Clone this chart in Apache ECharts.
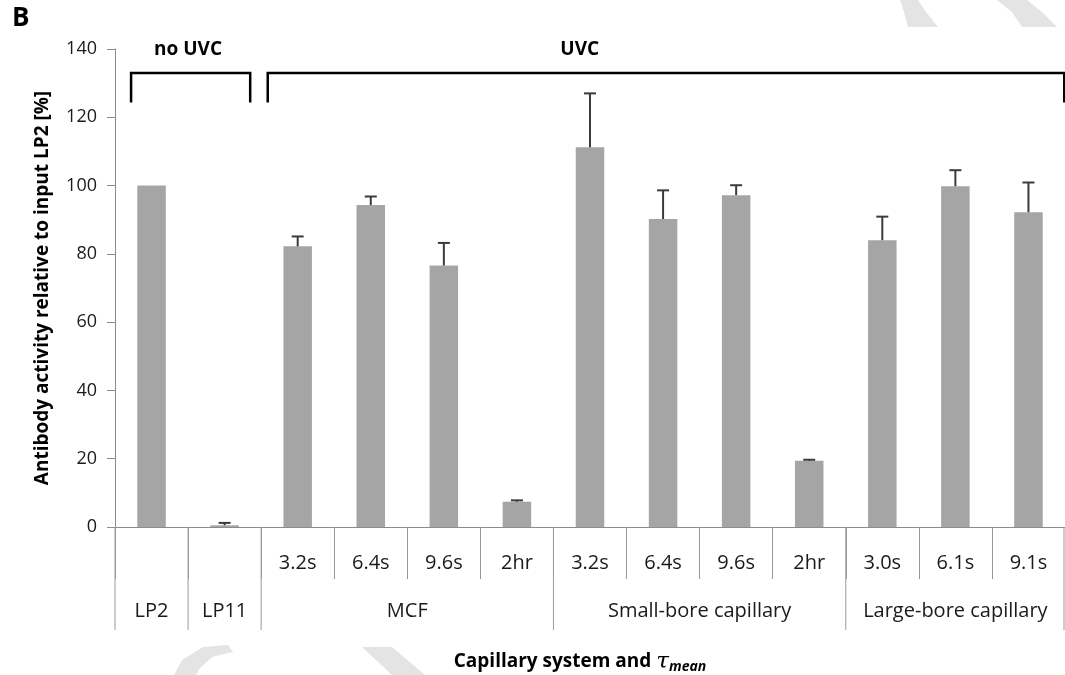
<!DOCTYPE html>
<html><head><meta charset="utf-8">
<script src="https://cdn.jsdelivr.net/npm/echarts@6/dist/echarts.min.js"></script>
<style>html,body{margin:0;padding:0;background:#fff}#c{width:1065px;height:675px}</style>
</head><body><div id="c"></div>
<script>
// ---- data ----
const categories = ['LP2','LP11','MCF 3.2s','MCF 6.4s','MCF 9.6s','MCF 2hr','SB 3.2s','SB 6.4s','SB 9.6s','SB 2hr','LB 3.0s','LB 6.1s','LB 9.1s'];
const tickLabels = ['','','3.2s','6.4s','9.6s','2hr','3.2s','6.4s','9.6s','2hr','3.0s','6.1s','9.1s'];
const values = [100, 0.5, 82.2, 94.3, 76.6, 7.4, 111.2, 90.2, 97.2, 19.4, 84.0, 99.8, 92.2];
const errors = [null, 0.7, 2.9, 2.5, 6.6, 0.4, 15.8, 8.4, 2.9, 0.3, 6.9, 4.7, 8.7];
const groupNames = ['LP2','LP11','MCF','Small-bore capillary','Large-bore capillary'];
const groupStart = [0, 1, 2, 6, 10];
const groupEnd = [0, 1, 5, 9, 12];
const bracketLabels = ['no UVC', 'UVC'];
const bracketStart = [0, 2];
const bracketEnd = [1, 12];
const yMin = 0, yMax = 140, yStep = 20;

// ---- styling / layout constants ----
const FONT = '"Open Sans", "Liberation Sans", sans-serif';
const TXT = '#1a1a1a';
const AX = '#8c8c8c';
const bracketPad = [[-0.28, 0.35], [-0.41, 0.49]];
const bracketLabelAt = [0.5, 5.86];
const bracketTop = 133, bracketBottom = 124.3, bracketLabelY = 139.8;

const chart = echarts.init(document.getElementById('c'));

function renderError(params, api) {
  const i = api.value(0);
  const base = api.coord([i, api.value(1)]);
  const top = api.coord([i, api.value(2)]);
  const st = {stroke: '#3a3a3a', lineWidth: 2};
  return {type: 'group', children: [
    {type: 'line', shape: {x1: base[0], y1: base[1], x2: top[0], y2: top[1]}, style: st},
    {type: 'line', shape: {x1: top[0] - 6, y1: top[1], x2: top[0] + 6, y2: top[1]}, style: st}
  ]};
}

function renderGroup(params, api) {
  const s = api.value(0), e = api.value(1);
  const bw = api.size([1, 0])[0];
  const p0 = api.coord([s, 0]);
  const p1 = api.coord([e, 0]);
  const left = p0[0] - bw / 2, right = p1[0] + bw / 2, y0 = p0[1];
  const ls = {stroke: '#9a9a9a', lineWidth: 1};
  const children = [
    {type: 'line', shape: {x1: left, y1: y0, x2: left, y2: y0 + 103}, style: ls},
    {type: 'text', x: (left + right) / 2, y: y0 + 84,
      style: {text: groupNames[params.dataIndex], fill: TXT, font: '20px ' + FONT, align: 'center', verticalAlign: 'middle'}}
  ];
  if (params.dataIndex === groupNames.length - 1) {
    children.push({type: 'line', shape: {x1: right - 1, y1: y0, x2: right - 1, y2: y0 + 103}, style: ls});
  }
  return {type: 'group', children};
}

function renderBracket(params, api) {
  const k = params.dataIndex;
  const bw = api.size([1, 0])[0];
  const xl = api.coord([api.value(0), 0])[0] + bracketPad[k][0] * bw;
  const xr = api.coord([api.value(1), 0])[0] + bracketPad[k][1] * bw;
  const yt = api.coord([0, bracketTop])[1];
  const yb = api.coord([0, bracketBottom])[1];
  const yl = api.coord([0, bracketLabelY])[1];
  const xlab = api.coord([0, 0])[0] + bracketLabelAt[k] * bw;
  return {type: 'group', children: [
    {type: 'polyline', shape: {points: [[xl, yb], [xl, yt], [xr, yt], [xr, yb]]},
      style: {stroke: '#000', lineWidth: 2.5, fill: null}},
    {type: 'text', x: xlab, y: yl,
      style: {text: bracketLabels[k], fill: '#000', font: 'bold 19px ' + FONT, align: 'center', verticalAlign: 'middle'}}
  ]};
}

const wm = '#e4e4e4';
chart.setOption({
  animation: false,
  backgroundColor: '#fff',
  grid: {left: 115, right: 0, top: 49, bottom: 148, outerBoundsMode: 'none', containLabel: false},
  graphic: [
    {type: 'text', left: 12, top: 6, style: {text: 'B', font: 'bold 26px ' + FONT, fill: '#000'}},
    {type: 'polygon', silent: true, z: -10, shape: {points: [[900,0],[918,0],[926,12],[938,27],[908,27],[904,12]]}, style: {fill: wm}},
    {type: 'polygon', silent: true, z: -10, shape: {points: [[997,0],[1027,0],[1042,12],[1057,27],[1022,27],[1012,12]]}, style: {fill: wm}},
    {type: 'polygon', silent: true, z: -10, shape: {points: [[203,647],[228,645],[233,652],[212,657],[200,668],[196,675],[174,675],[182,660]]}, style: {fill: wm}},
    {type: 'polygon', silent: true, z: -10, shape: {points: [[362,647],[392,647],[425,675],[392,675]]}, style: {fill: wm}}
  ],
  xAxis: {
    type: 'category', data: categories,
    axisLine: {lineStyle: {color: AX, width: 1}},
    axisTick: {show: true, interval: 0, length: 52, lineStyle: {color: '#9a9a9a'}},
    axisLabel: {interval: 0, margin: 26, color: TXT, fontSize: 20, fontFamily: FONT,
      formatter: (v, i) => tickLabels[i]},
    name: '{b|Capillary system and }{t|τ}{s|mean}',
    nameLocation: 'middle', nameGap: 121,
    nameTextStyle: {
      padding: [0, 20, 0, 0],
      rich: {
        b: {fontFamily: FONT, fontWeight: 'bold', fontSize: 19, color: '#000', lineHeight: 28},
        t: {fontFamily: '"DejaVu Serif", serif', fontStyle: 'italic', fontSize: 23, color: '#000', lineHeight: 28},
        s: {fontFamily: FONT, fontStyle: 'italic', fontWeight: 'bold', fontSize: 14, color: '#000', lineHeight: 28, padding: [10, 0, 0, 0]}
      }
    }
  },
  yAxis: {
    type: 'value', min: yMin, max: yMax, interval: yStep,
    axisLine: {show: true, lineStyle: {color: AX, width: 1}},
    axisTick: {show: true, length: 8, lineStyle: {color: AX}},
    splitLine: {show: false},
    axisLabel: {margin: 18, color: TXT, fontSize: 18, fontFamily: FONT},
    name: 'Antibody activity relative to input LP2 [%]',
    nameLocation: 'middle', nameGap: 63, nameRotate: 90,
    nameTextStyle: {fontFamily: FONT, fontWeight: 'bold', fontSize: 19, color: '#000'}
  },
  series: [
    {type: 'bar', data: values, barWidth: '39%', itemStyle: {color: '#a5a5a5'}, z: 2},
    {type: 'custom', renderItem: renderError, z: 3,
      data: values.map((v, i) => errors[i] == null ? null : [i, v, v + errors[i]]).filter(d => d)},
    {type: 'custom', renderItem: renderGroup, z: 3, clip: false,
      data: groupStart.map((s, i) => [s, groupEnd[i]]), encode: {x: 0}},
    {type: 'custom', renderItem: renderBracket, z: 3, clip: false,
      data: bracketStart.map((s, i) => [s, bracketEnd[i]]), encode: {x: 0}}
  ]
});
</script></body></html>
